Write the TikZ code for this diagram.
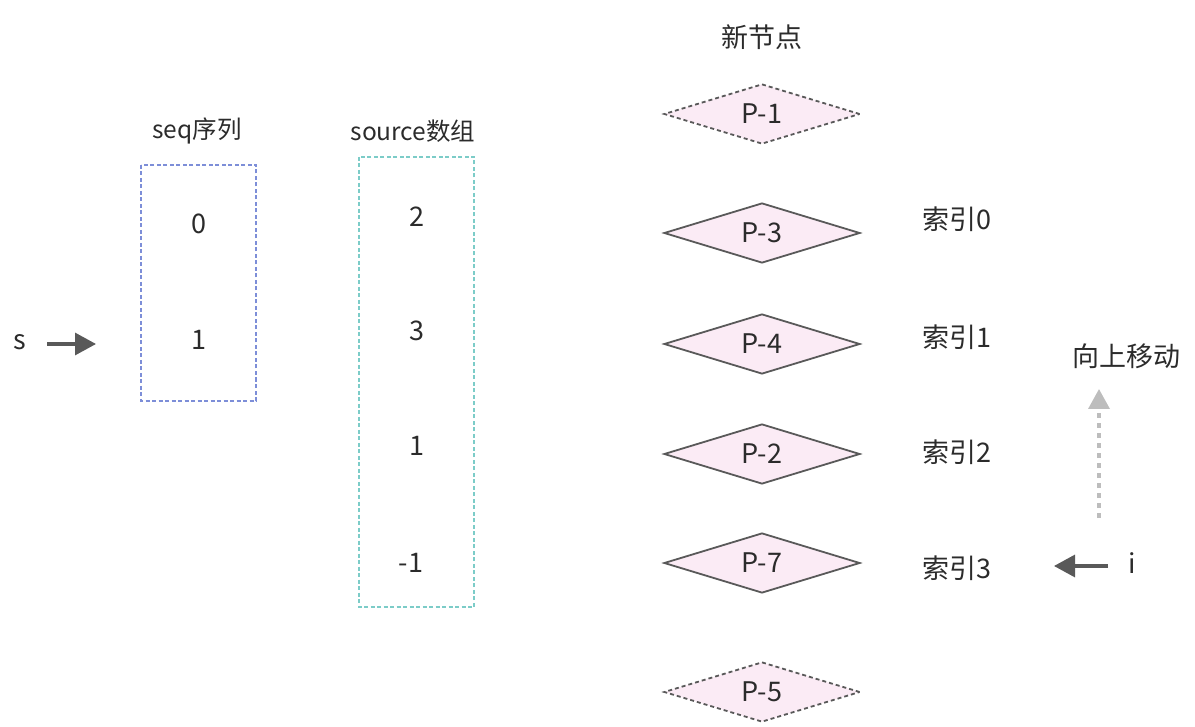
\documentclass[tikz,border=0pt]{standalone}
\usepackage{fontspec}
\setmainfont{Noto Sans CJK SC}
\usetikzlibrary{shapes.geometric,arrows.meta}
\definecolor{txt}{HTML}{2B2B2B}
\definecolor{seqc}{HTML}{7D8ED8}
\definecolor{srcc}{HTML}{7CCCC8}
\definecolor{dfill}{HTML}{FBEBF5}
\definecolor{dline}{HTML}{595959}
\definecolor{arr}{HTML}{595959}
\definecolor{uparr}{HTML}{BDBDBD}
\tikzset{
  lbl/.style={text=txt,font=\fontsize{27}{32}\selectfont,inner sep=0pt},
  ttl/.style={text=txt,font=\fontsize{24.5}{30}\selectfont,inner sep=0pt},
  pnode/.style={diamond,draw=dline,fill=dfill,line width=1.8pt,aspect=3.27,minimum width=196pt,minimum height=60pt,inner sep=0pt,text=txt,font=\fontsize{27}{32}\selectfont},
  pdash/.style={pnode,dash pattern=on 4pt off 3pt},
  boxst/.style={line width=1.4pt,dash pattern=on 4pt off 2.5pt},
  bigarrow/.style={line width=3.2pt,-{Triangle[length=21pt,width=22pt]}}
}
\begin{document}
\begin{tikzpicture}[x=1pt,y=-1pt]
\useasboundingbox (0,0) rectangle (1195,727);
% seq box
\draw[boxst,draw=seqc] (141,165) rectangle (256,401);
\node[ttl] (seqt) at (197,131) {seq序列};
\node[lbl] (s0) at (199,224) {0};
\node[lbl] (s1) at (199,340) {1};
% source box
\draw[boxst,draw=srcc] (359,157) rectangle (474,607);
\node[ttl] (srct) at (413,131) {source数组};
\node[lbl] (v0) at (417,217) {2};
\node[lbl] (v1) at (417,331) {3};
\node[lbl] (v2) at (417,446) {1};
\node[lbl] (v3) at (411,563) {-1};
% s pointer
\node[lbl] (s) at (20,342) {s};
\coordinate (sa) at (47,344);
\coordinate (sb) at (96,344);
\draw[bigarrow,draw=arr,fill=arr] (sa) -- (sb);
% diamonds
\node[lbl] (newt) at (762,37) {新节点};
\node[pdash] (p1) at (762,114) {P-1};
\node[pnode] (p3) at (762,233) {P-3};
\node[pnode] (p4) at (762,344) {P-4};
\node[pnode] (p2) at (762,454) {P-2};
\node[pnode] (p7) at (762,563) {P-7};
\node[pdash] (p5) at (762,692) {P-5};
% index labels
\node[lbl] (i0) at (957,219) {索引0};
\node[lbl] (i1) at (957,337) {索引1};
\node[lbl] (i2) at (957,452) {索引2};
\node[lbl] (i3) at (957,568) {索引3};
% move up
\node[lbl] (up) at (1126,356) {向上移动};
\coordinate (ua) at (1099,518);
\coordinate (ub) at (1099,389);
\draw[line width=3.5pt,draw=uparr,dash pattern=on 5pt off 5pt,-{Triangle[length=20pt,width=21pt,fill=uparr]}] (ua) -- (ub);
% i pointer
\node[lbl] (ip) at (1132,563) {i};
\coordinate (ia) at (1108,566);
\coordinate (ib) at (1054,566);
\draw[bigarrow,draw=arr,fill=arr] (ia) -- (ib);
\end{tikzpicture}
\end{document}
